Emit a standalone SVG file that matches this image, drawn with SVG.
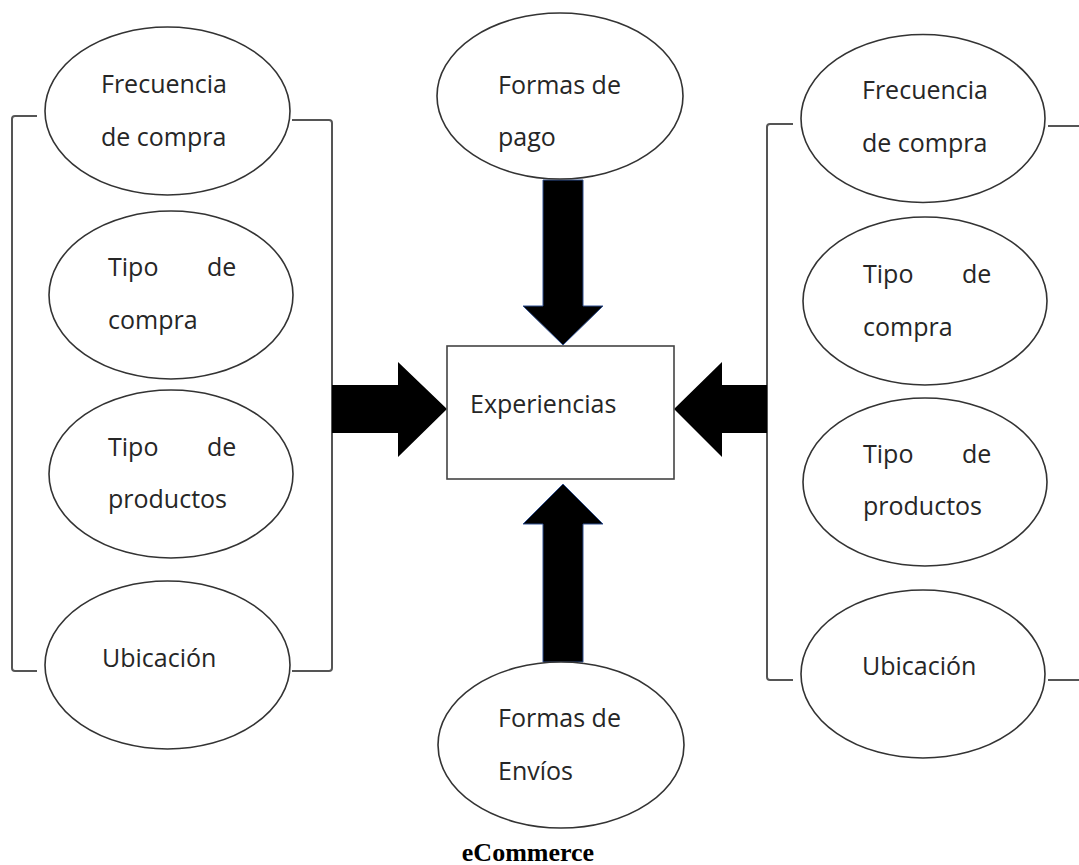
<svg xmlns="http://www.w3.org/2000/svg" width="1079" height="865" viewBox="0 0 1079 865">
<style>
.el{fill:#fff;stroke:#333;stroke-width:1.6}
.lbl{font-family:"Open Sans","Noto Sans",sans-serif;font-size:25px;fill:#262626}
.br{fill:none;stroke:#555;stroke-width:2}
.arr{fill:#000}
.varr{fill:#000;stroke:#2F4F8F;stroke-width:1}
.box{fill:#fff;stroke:#444;stroke-width:1.6}
</style>
<rect width="1079" height="865" fill="#fff"/>
<g id="connectors">
<path class="br" d="M37,116 H15 Q12,116 12,119 V668 Q12,671 15,671 H37"/>
<path class="br" d="M292,120 H329 Q332,120 332,123 V668 Q332,671 329,671 H292"/>
<path class="br" d="M793,124 H770 Q767,124 767,127 V677 Q767,680 770,680 H793"/>
<path class="br" d="M1048,126 H1079"/>
<path class="br" d="M1048,680 H1079"/>
<polygon class="arr" points="332,385 398,385 398,362 447,409 398,457 398,433 332,433"/>
<polygon class="arr" points="767,385 722,385 722,362 674,409 722,457 722,433 767,433"/>
<polygon class="varr" points="543,180 583,180 583,306 603,306 563,345 523,306 543,306"/>
<polygon class="varr" points="543,662 583,662 583,524 603,524 563,484 523,524 543,524"/>
</g>
<g id="left-frecuencia">
<ellipse class="el" cx="167.5" cy="111" rx="122.5" ry="84"/>
<text class="lbl" x="101" y="93">Frecuencia</text>
<text class="lbl" x="101" y="146">de compra</text>
</g>
<g id="left-tipo-compra">
<ellipse class="el" cx="171" cy="295" rx="122" ry="84"/>
<text class="lbl" y="276"><tspan x="108">Tipo</tspan><tspan x="207">de</tspan></text>
<text class="lbl" x="108" y="329">compra</text>
</g>
<g id="left-tipo-productos">
<ellipse class="el" cx="171" cy="474" rx="122" ry="84"/>
<text class="lbl" y="456"><tspan x="108">Tipo</tspan><tspan x="207">de</tspan></text>
<text class="lbl" x="108" y="508">productos</text>
</g>
<g id="left-ubicacion">
<ellipse class="el" cx="167.5" cy="665" rx="122.5" ry="84"/>
<text class="lbl" x="102" y="667">Ubicación</text>
</g>
<g id="formas-pago">
<ellipse class="el" cx="560" cy="96" rx="123" ry="83"/>
<text class="lbl" x="498" y="94">Formas de</text>
<text class="lbl" x="498" y="146">pago</text>
</g>
<g id="experiencias">
<rect class="box" x="447" y="346" width="227" height="133"/>
<text class="lbl" x="470" y="413">Experiencias</text>
</g>
<g id="formas-envios">
<ellipse class="el" cx="561" cy="745" rx="123" ry="83"/>
<text class="lbl" x="498" y="727">Formas de</text>
<text class="lbl" x="498" y="780">Envíos</text>
</g>
<g id="right-frecuencia">
<ellipse class="el" cx="923" cy="118.5" rx="122" ry="84"/>
<text class="lbl" x="862" y="99">Frecuencia</text>
<text class="lbl" x="862" y="152">de compra</text>
</g>
<g id="right-tipo-compra">
<ellipse class="el" cx="925" cy="301" rx="122" ry="84"/>
<text class="lbl" y="283"><tspan x="863">Tipo</tspan><tspan x="962">de</tspan></text>
<text class="lbl" x="863" y="336">compra</text>
</g>
<g id="right-tipo-productos">
<ellipse class="el" cx="925" cy="482" rx="122" ry="84"/>
<text class="lbl" y="463"><tspan x="863">Tipo</tspan><tspan x="962">de</tspan></text>
<text class="lbl" x="863" y="515">productos</text>
</g>
<g id="right-ubicacion">
<ellipse class="el" cx="923" cy="674" rx="122" ry="84"/>
<text class="lbl" x="862" y="675">Ubicación</text>
</g>
<g id="caption">
<text x="528" y="861" text-anchor="middle" font-family="Liberation Serif, serif" font-weight="bold" font-size="26" fill="#000">eCommerce</text>
</g>
</svg>
